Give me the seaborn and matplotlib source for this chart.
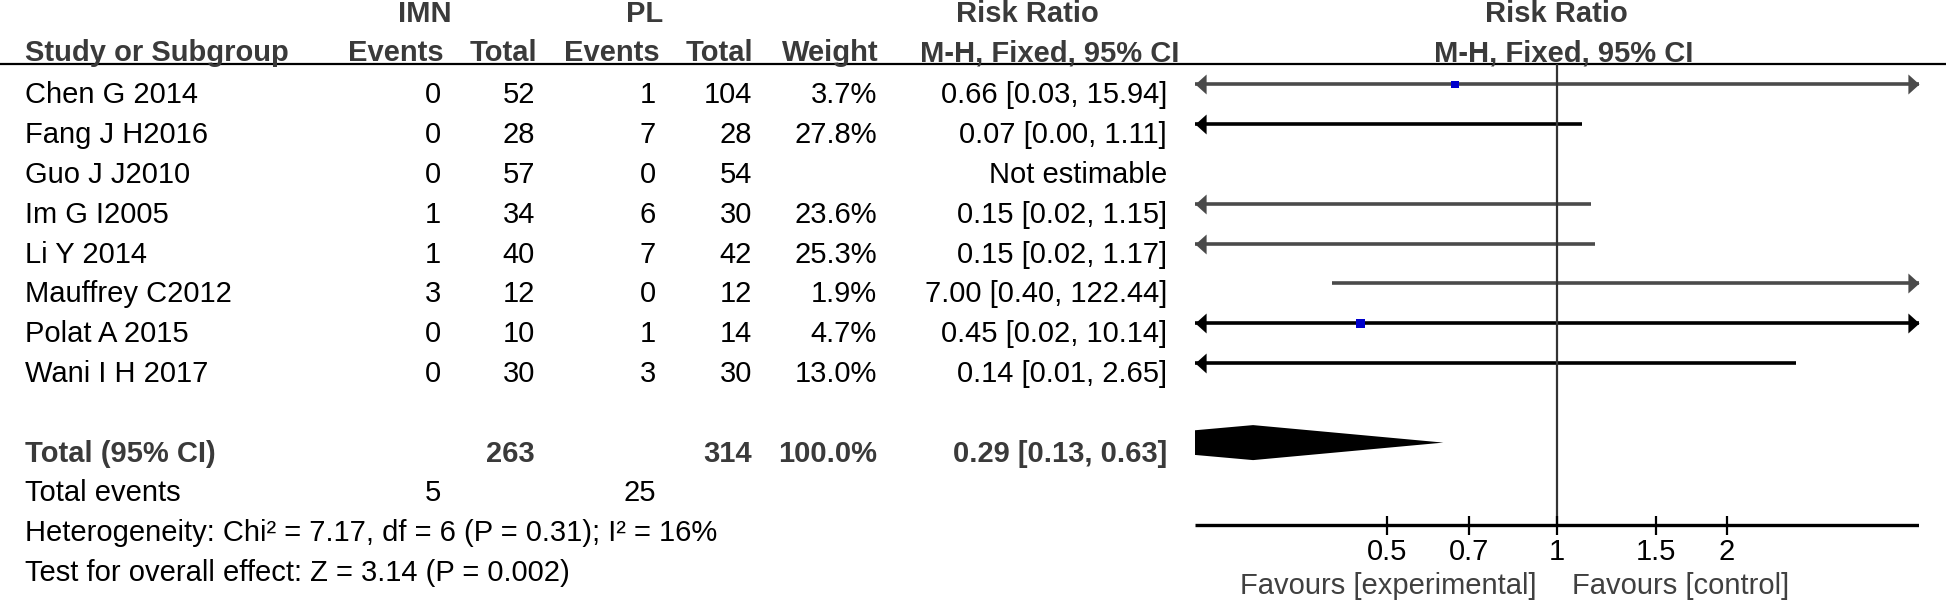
import numpy as np
import pandas as pd
import matplotlib
matplotlib.use("Agg")
import matplotlib.pyplot as plt
import seaborn as sns
from matplotlib.path import Path

# ---------------- data ----------------
studies = ["Chen G 2014", "Fang J H2016", "Guo J J2010", "Im G I2005",
           "Li Y 2014", "Mauffrey C2012", "Polat A 2015", "Wani I H 2017"]
imn_events = [0, 0, 0, 1, 1, 3, 0, 0]
imn_total = [52, 28, 57, 34, 40, 12, 10, 30]
pl_events = [1, 7, 0, 6, 7, 0, 1, 3]
pl_total = [104, 28, 54, 30, 42, 12, 14, 30]
weights = [3.7, 27.8, None, 23.6, 25.3, 1.9, 4.7, 13.0]
rr = [0.66, 0.07, None, 0.15, 0.15, 7.00, 0.45, 0.14]
ci_low = [0.03, 0.00, None, 0.02, 0.02, 0.40, 0.02, 0.01]
ci_high = [15.94, 1.11, None, 1.15, 1.17, 122.44, 10.14, 2.65]

total_imn = 263
total_pl = 314
total_weight = 100.0
total_rr = 0.29
total_low = 0.13
total_high = 0.63
total_events_imn = 5
total_events_pl = 25
heterogeneity = "Heterogeneity: Chi² = 7.17, df = 6 (P = 0.31); I² = 16%"
overall = "Test for overall effect: Z = 3.14 (P = 0.002)"

tick_values = [0.5, 0.7, 1, 1.5, 2]
tick_labels = ["0.5", "0.7", "1", "1.5", "2"]
x_max = 4.375
x_min = 1 / x_max

# ---------------- style ----------------
sns.set_style("white")
plt.rcParams["font.family"] = ["Liberation Sans", "DejaVu Sans"]
FS = 21
HEAD = "#3a3a3a"
line_colors = ["#4a4a4a", "black", "black", "#4a4a4a", "#4a4a4a", "#4a4a4a", "black", "black"]

W, H = 1946, 607
fig = plt.figure(figsize=(W / 100, H / 100), dpi=100)

tab = fig.add_axes([0, 0, 1, 1])
tab.set_xlim(0, W)
tab.set_ylim(H, 0)
tab.axis("off")

fx0, fx1 = 1194.7, 1918.6
fax = fig.add_axes([fx0 / W, 0, (fx1 - fx0) / W, 1])
fax.set_xscale("log")
fax.set_xlim(x_min, x_max)
fax.set_ylim(H, 0)
fax.axis("off")

row0, step = 84.4, 39.8
def row_y(i):
    return row0 + step * i

BASE = 19  # baseline offset from row line
rule_y = 63.5
axis_y = 525

# ---------------- header ----------------
hdr1 = 22
hdr2 = 61
tab.text(425, hdr1, "IMN", ha="center", va="baseline", fontsize=FS, fontweight="bold", color=HEAD)
tab.text(645, hdr1, "PL", ha="center", va="baseline", fontsize=FS, fontweight="bold", color=HEAD)
tab.text(1027, hdr1, "Risk Ratio", ha="center", va="baseline", fontsize=FS, fontweight="bold", color=HEAD)
tab.text(25, hdr2, "Study or Subgroup", ha="left", va="baseline", fontsize=FS, fontweight="bold", color=HEAD)
for xr, lab in [(444, "Events"), (537, "Total"), (660, "Events"), (753, "Total"), (879, "Weight")]:
    tab.text(xr, hdr2, lab, ha="right", va="baseline", fontsize=FS, fontweight="bold", color=HEAD)
tab.text(1050, hdr2, "M-H, Fixed, 95% CI", ha="center", va="baseline", fontsize=FS, fontweight="bold", color=HEAD)
fax.text(1, hdr1, "Risk Ratio", ha="center", va="baseline", fontsize=FS, fontweight="bold", color=HEAD)
fax.annotate("M-H, Fixed, 95% CI", xy=(1, hdr2), xytext=(5, 0), textcoords="offset points",
             ha="center", va="baseline", fontsize=FS, fontweight="bold", color=HEAD)
tab.hlines(rule_y, 0, W, color="black", lw=1.6)

# ---------------- study rows ----------------
cols = [441, 535, 656, 752, 877, 1167]
for i, name in enumerate(studies):
    yb = row_y(i) + BASE
    tab.text(25, yb, name, ha="left", va="baseline", fontsize=FS, color="black")
    vals = [str(imn_events[i]), str(imn_total[i]), str(pl_events[i]), str(pl_total[i])]
    if weights[i] is not None:
        vals.append(f"{weights[i]:.1f}%")
        vals.append(f"{rr[i]:.2f} [{ci_low[i]:.2f}, {ci_high[i]:.2f}]")
    else:
        vals.append("")
        vals.append("Not estimable")
    for xr, v in zip(cols, vals):
        tab.text(xr, yb, v, ha="right", va="baseline", fontsize=FS, color="black")

# total rows
yb = row_y(9) + BASE
tab.text(25, yb, "Total (95% CI)", ha="left", va="baseline", fontsize=FS, fontweight="bold", color=HEAD)
for xr, v in [(535, str(total_imn)), (752, str(total_pl)), (877, f"{total_weight:.1f}%"),
              (1167, f"{total_rr:.2f} [{total_low:.2f}, {total_high:.2f}]")]:
    tab.text(xr, yb, v, ha="right", va="baseline", fontsize=FS, fontweight="bold", color=HEAD)
yb = row_y(10) + BASE
tab.text(25, yb, "Total events", ha="left", va="baseline", fontsize=FS, color="black")
tab.text(441, yb, str(total_events_imn), ha="right", va="baseline", fontsize=FS, color="black")
tab.text(656, yb, str(total_events_pl), ha="right", va="baseline", fontsize=FS, color="black")
tab.text(25, row_y(11) + BASE, heterogeneity, ha="left", va="baseline", fontsize=FS, color="black")
tab.text(25, row_y(12) + BASE, overall, ha="left", va="baseline", fontsize=FS, color="black")

# ---------------- forest plot ----------------
left_arrow = Path([(0, 0), (10, -9), (10, 9), (0, 0)], [Path.MOVETO, Path.LINETO, Path.LINETO, Path.CLOSEPOLY])
right_arrow = Path([(0, 0), (-10, -9), (-10, 9), (0, 0)], [Path.MOVETO, Path.LINETO, Path.LINETO, Path.CLOSEPOLY])
LW = 2.6
for i in range(len(studies)):
    if rr[i] is None:
        continue
    y = row_y(i)
    c = line_colors[i]
    lo = max(ci_low[i], x_min)
    hi = min(ci_high[i], x_max)
    fax.hlines(y, lo, hi, color=c, lw=LW)
    if ci_low[i] < x_min:
        fax.plot([x_min], [y], marker=left_arrow, ms=16, color=c, mew=0, clip_on=False)
    if ci_high[i] > x_max:
        fax.plot([x_max], [y], marker=right_arrow, ms=16, color=c, mew=0, clip_on=False)

pts = pd.DataFrame({
    "rr": [r for r in rr if r is not None],
    "y": [row_y(i) for i, r in enumerate(rr) if r is not None],
    "w": [w for w in weights if w is not None],
})
sizes = [(4.0 * np.sqrt(w) * 0.72) ** 2 for w in pts["w"]]
sns.scatterplot(data=pts, x="rr", y="y", marker="s", s=sizes, color="#0000CC",
                linewidth=0, ax=fax, legend=False, zorder=3)
fax.set_xlim(x_min, x_max)
fax.set_ylim(H, 0)

# diamond
yd = row_y(9)
hh = 17.5
fax.fill([total_low, total_rr, total_high, total_rr], [yd, yd - hh, yd, yd + hh],
         color="black", lw=0)

# line of no effect and axis
fax.vlines(1, rule_y, axis_y, color="#333333", lw=1.6)
fax.hlines(axis_y, x_min, x_max, color="black", lw=2.4)
fax.vlines(tick_values, axis_y - 9.5, axis_y + 9.5, color="black", lw=1.6)
for t, lab in zip(tick_values, tick_labels):
    fax.text(t, 560, lab, ha="center", va="baseline", fontsize=FS, color="black")
fax.annotate("Favours [experimental]", xy=(1, 594), xytext=(-14.4, 0), textcoords="offset points",
             ha="right", va="baseline", fontsize=FS, color="#404040")
fax.annotate("Favours [control]", xy=(1, 594), xytext=(11, 0), textcoords="offset points",
             ha="left", va="baseline", fontsize=FS, color="#404040")

fig.savefig("out.png", dpi=100)
